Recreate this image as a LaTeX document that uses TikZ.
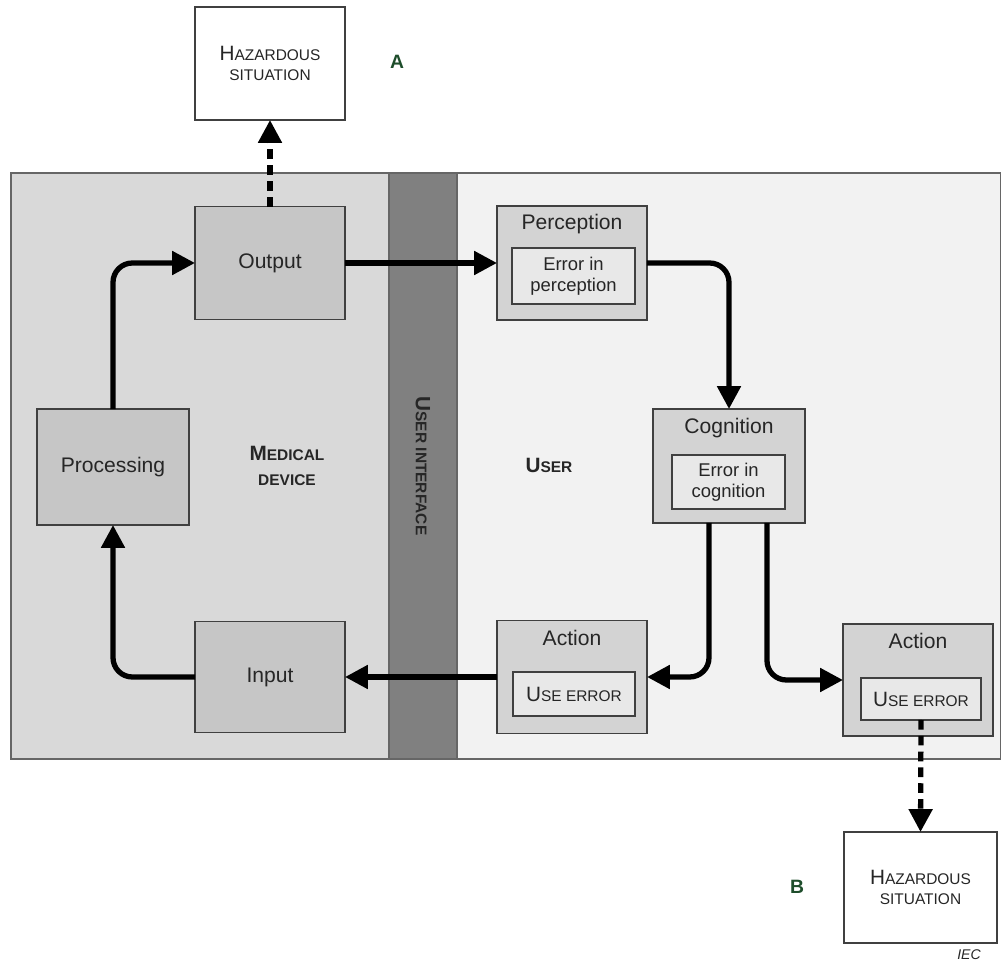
\documentclass[tikz,border=0pt]{standalone}
\usepackage{fontspec}
\setmainfont{Liberation Sans}
\usetikzlibrary{arrows.meta,calc}
\definecolor{devgrey}{HTML}{D9D9D9}
\definecolor{uigrey}{HTML}{808080}
\definecolor{usergrey}{HTML}{F2F2F2}
\definecolor{boxgrey}{HTML}{C6C6C6}
\definecolor{stagegrey}{HTML}{D3D3D3}
\definecolor{errgrey}{HTML}{E8E8E8}
\definecolor{edge}{HTML}{404040}
\definecolor{ink}{HTML}{262626}
\definecolor{letgreen}{HTML}{1E4D2B}

% first letter large, rest as small capitals
\newcommand\capfirst[2]{{\fontsize{11.8}{14}\selectfont #1}{\fontsize{8.8}{11}\selectfont #2}}

\begin{document}
\begin{tikzpicture}[x=0.02cm, y=-0.02cm,
  box/.style={draw=edge, line width=0.6pt, inner sep=0pt, outer sep=0pt, text=ink,
    font=\fontsize{12}{14}\selectfont, align=center},
  devbox/.style={box, fill=boxgrey},
  stagebox/.style={box, fill=stagegrey},
  errbox/.style={box, fill=errgrey, font=\fontsize{10.5}{12}\selectfont},
  hazbox/.style={box, fill=white, minimum width=3cm, minimum height=2.24cm,
    font=\fontsize{8.8}{11.3}\selectfont},
  stagetitle/.style={text=ink, inner sep=0pt, font=\fontsize{12}{14}\selectfont},
  region/.style={draw=edge!80, line width=0.6pt},
  arealabel/.style={text=ink, inner sep=0pt, align=center, font=\bfseries\fontsize{8.8}{14.7}\selectfont},
  letter/.style={text=letgreen, font=\bfseries\fontsize{11}{13}\selectfont},
  flow/.style={line width=3pt, rounded corners=11pt, -{Triangle[length=13pt,width=13pt]}},
  hazflow/.style={line width=3pt, dash pattern=on 5.5pt off 3.5pt, -{Triangle[length=13pt,width=13pt]}}]

\useasboundingbox (0,0) rectangle (1001,962);

% areas
\filldraw[region, fill=devgrey] (11,173) rectangle (389,759);
\filldraw[region, fill=uigrey] (389,173) rectangle (457,759);
\filldraw[region, fill=usergrey] (457,173) rectangle (1000.5,759);

\node[arealabel] (devlab) at (287,466) {\capfirst{M}{EDICAL}\\\capfirst{}{DEVICE}};
\node[arealabel, rotate=-90] (uilab) at (423,466) {\capfirst{U}{SER INTERFACE}};
\node[arealabel] (userlab) at (549,465) {\capfirst{U}{SER}};

% medical device
\node[devbox, minimum width=3cm, minimum height=2.26cm] (out) at (270,263) {Output};
\node[devbox, minimum width=3.04cm, minimum height=2.32cm] (proc) at (113,467) {Processing};
\node[devbox, minimum width=3cm, minimum height=2.22cm] (inp) at (270,677) {Input};

% user
\node[stagebox, minimum width=3cm, minimum height=2.28cm] (perc) at (572,263) {};
\node[stagetitle] (perct) at (572,224) {Perception};
\node[errbox, minimum width=2.46cm, minimum height=1.12cm] (perce) at (573.5,276) {Error in\\perception};

\node[stagebox, minimum width=3.04cm, minimum height=2.28cm] (cog) at (729,466) {};
\node[stagetitle] (cogt) at (729,428) {Cognition};
\node[errbox, minimum width=2.26cm, minimum height=1.08cm] (cogE) at (728.5,482) {Error in\\cognition};

\node[stagebox, minimum width=3cm, minimum height=2.26cm] (act1) at (572,677) {};
\node[stagetitle] (act1t) at (572,638) {Action};
\node[errbox, minimum width=2.44cm, minimum height=0.88cm] (act1e) at (574,694) {\capfirst{U}{SE ERROR}};

\node[stagebox, minimum width=3cm, minimum height=2.24cm] (act2) at (918,680) {};
\node[stagetitle] (act2t) at (918,641) {Action};
\node[errbox, minimum width=2.4cm, minimum height=0.84cm] (act2e) at (921,699) {\capfirst{U}{SE ERROR}};

% hazardous situations
\node[hazbox, minimum height=2.26cm] (haza) at (270,63.5) {\capfirst{H}{AZARDOUS}\\SITUATION};
\node[hazbox, minimum width=3.06cm, minimum height=2.22cm] (hazb) at (920.5,887.5) {\capfirst{H}{AZARDOUS}\\SITUATION};
\node[letter] (lA) at (397,62) {A};
\node[letter] (lB) at (797,887) {B};
\node[text=ink, font=\itshape\fontsize{8}{10}\selectfont] (iec) at (969,955) {IEC};

% connectors
\draw[hazflow] (out.north) -- (haza.south);
\draw[flow] (proc.north) |- (out.west);
\draw[flow] (inp.west) -| (proc.south);
\draw[flow] (act1.west) -- (inp.east);
\draw[flow] (out.east) -- (perc.west);
\draw[flow] (perc.east) -| (cog.north);
\draw[flow] ($(cog.south)+(-20,0)$) |- (act1.east);
\draw[flow] ($(cog.south)+(38,0)$) |- (act2.west);
\draw[hazflow] (act2e.south) -- (hazb.north);

\end{tikzpicture}
\end{document}
